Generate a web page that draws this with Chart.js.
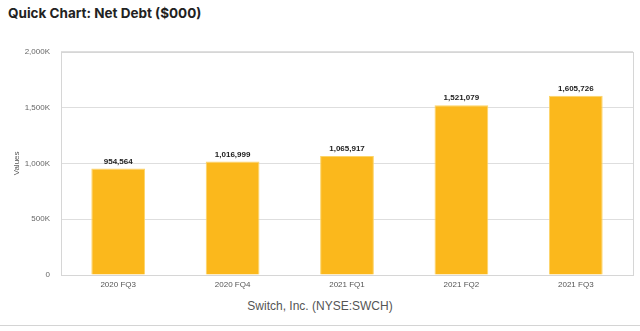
<!DOCTYPE html>
<html>
<head>
<meta charset="utf-8">
<script src="https://cdn.jsdelivr.net/npm/chart.js@4"></script>
<style>
  html, body { margin: 0; padding: 0; background: #fff; }
  body { width: 640px; height: 331px; position: relative; overflow: hidden; }
  #title {
    position: absolute; left: 8px; top: 5px;
    font: 700 13.5px Inter, 'Liberation Sans', sans-serif; color: #222;
  }
  #box { position: absolute; left: 0; top: 36px; width: 640px; height: 260px; }
  #sub {
    position: absolute; left: 0; width: 640px; top: 299px; text-align: center;
    font: 12px 'Liberation Sans', Arial, sans-serif; color: #555;
  }
  #rule { position: absolute; left: 0; width: 640px; top: 325px; height: 1px; background: #d4d4d4; }
</style>
</head>
<body>
<div id="title">Quick Chart: Net Debt ($000)</div>
<div id="box"><canvas id="c"></canvas></div>
<div id="sub">Switch, Inc. (NYSE:SWCH)</div>
<div id="rule"></div>
<script>
// ===== Net debt by fiscal quarter ($000) =====

const QUARTERS = ['2020 FQ3', '2020 FQ4', '2021 FQ1', '2021 FQ2', '2021 FQ3'];
const NET_DEBT = [954564, 1016999, 1065917, 1521079, 1605726];
const Y_TICKS = [0, 500000, 1000000, 1500000, 2000000];
const Y_TICK_LABELS = ['0', '500K', '1,000K', '1,500K', '2,000K'];

const BAR = '#FBB81C';
const FONT = "'Liberation Sans', Arial, sans-serif";

// value labels above each bar
const barLabels = {
  id: 'barLabels',
  afterDatasetsDraw(chart) {
    const { ctx } = chart;
    const meta = chart.getDatasetMeta(0);
    ctx.save();
    ctx.font = 'bold 8px ' + FONT;
    ctx.fillStyle = '#222';
    ctx.textAlign = 'center';
    ctx.textBaseline = 'bottom';
    meta.data.forEach((bar, i) => {
      ctx.fillText(NET_DEBT[i].toLocaleString('en-US'), bar.x, bar.y - 3);
    });
    ctx.restore();
  }
};

// frame round the plot area
const frame = {
  id: 'frame',
  beforeDatasetsDraw(chart) {
    const { ctx, chartArea: a } = chart;
    ctx.save();
    ctx.strokeStyle = '#d6d6d6';
    ctx.lineWidth = 1;
    ctx.strokeRect(Math.round(a.left) + 0.5, Math.round(a.top) + 0.5,
      Math.round(a.right - a.left), Math.round(a.bottom - a.top));
    ctx.restore();
  }
};

new Chart(document.getElementById('c'), {
  type: 'bar',
  data: {
    labels: QUARTERS,
    datasets: [{
      data: NET_DEBT,
      backgroundColor: BAR,
      borderColor: '#FCD468',
      borderWidth: 1,
      barPercentage: 0.47,
      categoryPercentage: 1
    }]
  },
  options: {
    responsive: true, maintainAspectRatio: false, animation: false,
    layout: { padding: { top: 4, right: 7, bottom: 0, left: 0 } },
    plugins: { legend: { display: false }, tooltip: { enabled: false } },
    scales: {
      x: {
        afterFit(scale) { scale.height = 21; },
        grid: { display: false, drawTicks: false },
        border: { display: false },
        ticks: { color: '#555', font: { family: FONT, size: 8 }, padding: 5, maxRotation: 0 }
      },
      y: {
        min: 0, max: 2000000,
        afterFit(scale) { scale.width = 61; },
        afterBuildTicks(scale) { scale.ticks = Y_TICKS.map(v => ({ value: v })); },
        grid: { color: '#dedede', drawTicks: false },
        border: { display: false },
        ticks: {
          color: '#666', font: { family: FONT, size: 8 }, padding: 11,
          callback: (v) => Y_TICK_LABELS[Y_TICKS.indexOf(v)]
        },
        title: { display: true, text: 'Values', color: '#555', font: { family: FONT, size: 8 }, padding: { top: 12, bottom: 0 } }
      }
    }
  },
  plugins: [frame, barLabels]
});
</script>
</body>
</html>
